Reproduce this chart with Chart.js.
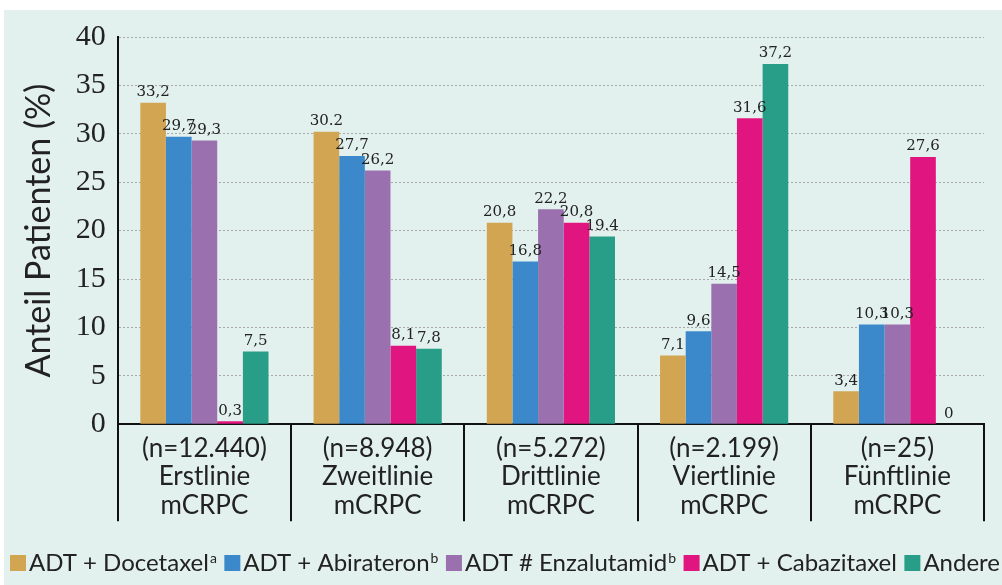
<!DOCTYPE html>
<html><head><meta charset="utf-8">
<script src="https://cdn.jsdelivr.net/npm/chart.js@4.4.0/dist/chart.umd.min.js"></script>
<style>
html,body{margin:0;padding:0;background:#fff;overflow:hidden;}
#wrap{position:absolute;left:4px;top:10px;width:998px;height:575px;background:#e3f1ee;}
canvas{display:block;}
</style></head><body>
<div id="wrap"><canvas id="c" width="998" height="575"></canvas></div>
<script>
const categories = [
  ["(n=12.440)", "Erstlinie", "mCRPC"],
  ["(n=8.948)", "Zweitlinie", "mCRPC"],
  ["(n=5.272)", "Drittlinie", "mCRPC"],
  ["(n=2.199)", "Viertlinie", "mCRPC"],
  ["(n=25)", "Fünftlinie", "mCRPC"]
];
const seriesNames = ["ADT + Docetaxel", "ADT + Abirateron", "ADT # Enzalutamid", "ADT + Cabazitaxel", "Andere"];
const seriesSup = ["a", "b", "b", "", ""];
const seriesColors = ["#d2a553", "#3b89cb", "#9a70ae", "#e1157f", "#289e88"];

const docetaxel   = [33.2, 30.2, 20.8, 7.1, 3.4];
const abirateron  = [29.7, 27.7, 16.8, 9.6, 10.3];
const enzalutamid = [29.3, 26.2, 22.2, 14.5, 10.3];
const cabazitaxel = [0.3, 8.1, 20.8, 31.6, 27.6];
const andere      = [7.5, 7.8, 19.4, 37.2, 0];

const docetaxelLabels   = ["33,2", "30.2", "20,8", "7,1", "3,4"];
const abirateronLabels  = ["29,7", "27,7", "16,8", "9,6", "10,3"];
const enzalutamidLabels = ["29,3", "26,2", "22,2", "14,5", "10,3"];
const cabazitaxelLabels = ["0,3", "8,1", "20,8", "31,6", "27,6"];
const andereLabels      = ["7,5", "7,8", "19.4", "37,2", "0"];

const yTicks = [0, 5, 10, 15, 20, 25, 30, 35, 40];
const yTitle = "Anteil Patienten (%)";

const seriesValues = [docetaxel, abirateron, enzalutamid, cabazitaxel, andere];
const seriesLabels = [docetaxelLabels, abirateronLabels, enzalutamidLabels, cabazitaxelLabels, andereLabels];

const datasets = seriesNames.map((name, i) => ({
  label: name,
  sup: seriesSup[i],
  data: seriesValues[i],
  valueLabels: seriesLabels[i],
  backgroundColor: seriesColors[i],
  borderWidth: 0,
  barPercentage: 1.0,
  categoryPercentage: 0.74
}));

const valueLabelPlugin = {
  id: 'valueLabels',
  afterDatasetsDraw(chart) {
    const ctx = chart.ctx;
    ctx.save();
    ctx.font = '15px "DejaVu Serif"';
    ctx.fillStyle = '#222';
    ctx.textAlign = 'center';
    ctx.textBaseline = 'bottom';
    chart.data.datasets.forEach((ds, i) => {
      const meta = chart.getDatasetMeta(i);
      meta.data.forEach((bar, j) => {
        ctx.fillText(ds.valueLabels[j], bar.x, bar.y - 3);
      });
    });
    ctx.restore();
  }
};

const separatorPlugin = {
  id: 'categorySeparators',
  afterDraw(chart) {
    const ctx = chart.ctx;
    const xs = chart.scales.x;
    const n = chart.data.labels.length;
    const top = chart.chartArea.bottom;
    ctx.save();
    ctx.strokeStyle = '#111';
    ctx.lineWidth = 2;
    ctx.beginPath();
    for (let i = 0; i <= n; i++) {
      const px = Math.round(xs.getPixelForValue(i - 0.5));
      ctx.moveTo(px, top);
      ctx.lineTo(px, top + 97);
    }
    ctx.stroke();
    ctx.restore();
  }
};

const legendPlugin = {
  id: 'customLegend',
  afterDraw(chart) {
    const ctx = chart.ctx;
    const box = 16, gap = 3, minSpacing = 7;
    const left = 6, right = 996;
    ctx.save();
    let size = 26, items, total;
    const measure = (s) => {
      items = chart.data.datasets.map((ds) => {
        ctx.font = s + 'px Lato';
        const w1 = ctx.measureText(ds.label).width;
        ctx.font = Math.round(s * 0.58) + 'px Lato';
        const w2 = ds.sup ? ctx.measureText(ds.sup).width + 1 : 0;
        return { ds, w1, w2, w: box + gap + w1 + w2 };
      });
      total = items.reduce((a, b) => a + b.w, 0);
    };
    measure(size);
    while (size > 12 && total + minSpacing * (items.length - 1) > right - left) { size -= 0.5; measure(size); }
    const spacing = (right - left - total) / (items.length - 1);
    const boxTop = 545, baseline = 561;
    let x = left;
    items.forEach(it => {
      ctx.fillStyle = it.ds.backgroundColor;
      ctx.fillRect(x, boxTop, box, box);
      ctx.fillStyle = '#222';
      ctx.textBaseline = 'alphabetic';
      ctx.textAlign = 'left';
      ctx.font = size + 'px Lato';
      ctx.fillText(it.ds.label, x + box + gap, baseline);
      if (it.ds.sup) {
        ctx.font = Math.round(size * 0.58) + 'px Lato';
        ctx.fillText(it.ds.sup, x + box + gap + it.w1 + 1, baseline - 8);
      }
      x += it.w + spacing;
    });
    ctx.restore();
  }
};

new Chart(document.getElementById('c'), {
  type: 'bar',
  data: { labels: categories, datasets },
  plugins: [valueLabelPlugin, separatorPlugin, legendPlugin],
  options: {
    responsive: false,
    devicePixelRatio: 1,
    animation: false,
    layout: { padding: { left: 4, right: 18, top: 20, bottom: 55 } },
    plugins: { legend: { display: false }, tooltip: { enabled: false } },
    scales: {
      x: {
        offset: true,
        grid: { display: false, drawTicks: false },
        border: { display: true, color: '#111', width: 2 },
        ticks: {
          padding: 10, maxRotation: 0, autoSkip: false,
          color: '#222', font: { family: 'Lato', size: 26, lineHeight: 1.1 }
        }
      },
      y: {
        min: 0, max: 40,
        afterBuildTicks(axis) { axis.ticks = yTicks.map(v => ({ value: v })); },
        grid: { color: '#a8a8a8', lineWidth: 1, drawTicks: false },
        border: { display: true, color: '#111', width: 2, dash: [2, 2] },
        ticks: { padding: 12, color: '#222', font: { family: 'Liberation Serif', size: 30, lineHeight: 1.0 } },
        title: {
          display: true, text: yTitle, color: '#222',
          font: { family: 'Lato', size: 34 },
          padding: { top: 11, bottom: 4 }
        }
      }
    }
  }
});
</script>
</body></html>
